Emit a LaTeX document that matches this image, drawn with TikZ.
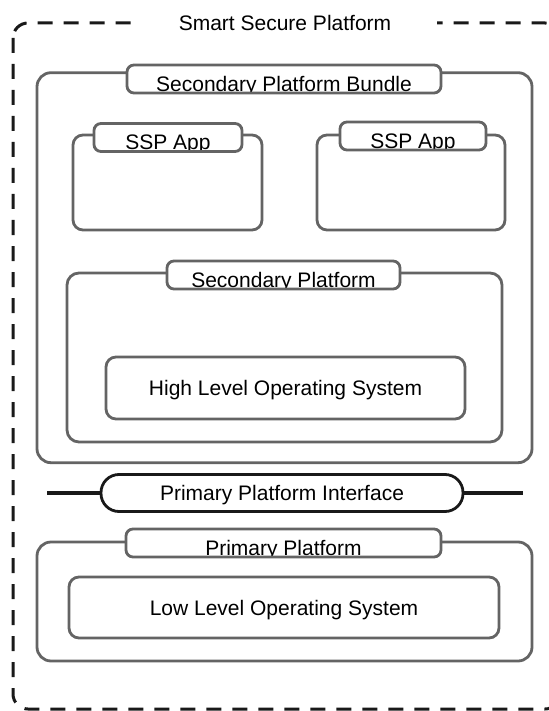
\documentclass[tikz,border=0pt]{standalone}
\usepackage{fontspec}
\setmainfont{Liberation Sans}
\usepackage{xcolor}
\usepackage{tikz}

\definecolor{boxgray}{RGB}{100,100,100}
\definecolor{inkblack}{RGB}{25,25,25}

\tikzset{
    panel/.style={draw=boxgray, line width=2.8pt, fill=white, inner sep=0pt, text depth=0pt},
    tabbox/.style={draw=boxgray, line width=2.8pt, fill=white, rounded corners=7pt,
        minimum height=28pt, inner sep=0pt,
        path picture={\node[shape=rectangle, draw=none, fill=none, inner sep=0pt,
            minimum size=0pt, anchor=base] at ([yshift=1.5pt]path picture bounding box.south) {#1};}},
    dashframe/.style={draw=inkblack, line width=3pt, dash pattern=on 15pt off 11pt},
    ifline/.style={draw=inkblack, line width=3.5pt},
}

\begin{document}
\begin{tikzpicture}[x=1pt, y=-1pt, font=\fontsize{21}{25}\selectfont]
        \fill[white] (0, 0) rectangle (548, 711);
        \useasboundingbox (0, 0) rectangle (548, 711);

        \draw[dashframe, rounded corners=15pt] (13, 23) rectangle (560, 709);
        \node[fill=white, minimum width=304pt, inner sep=0pt] (ssptitle) at (285, 23) {Smart Secure Platform};

        \node[panel, rounded corners=14pt, minimum width=495pt, minimum height=390pt] (bundle) at (284.5, 267.7) {};
        \node[tabbox={Secondary Platform Bundle}, minimum width=314pt] (bundletab) at (284, 79) {};

        \node[panel, rounded corners=10pt, minimum width=189pt, minimum height=95pt] (appa) at (167.5, 182.5) {};
        \node[tabbox={SSP App}, minimum width=148pt] (appatab) at (168, 137.5) {};
        \node[panel, rounded corners=10pt, minimum width=188pt, minimum height=95pt] (appb) at (411, 182.5) {};
        \node[tabbox={SSP App}, minimum width=146pt] (appbtab) at (413, 136) {};

        \node[panel, rounded corners=12pt, minimum width=435pt, minimum height=169pt] (secplat) at (284.5, 357.5) {};
        \node[tabbox={Secondary Platform}, minimum width=233pt] (secplattab) at (283.5, 275) {};
        \node[panel, rounded corners=10pt, minimum width=359pt, minimum height=62pt] (hlos) at (285.5, 388) {High Level Operating System};

        \coordinate (ifl) at (47, 493);
        \coordinate (ifr) at (523, 493);
        \node[panel, draw=inkblack, rounded corners=18pt, minimum width=362pt, minimum height=37pt] (ppi) at (282, 493) {Primary Platform Interface};
        \draw[ifline] (ifl) -- (ppi);
        \draw[ifline] (ppi) -- (ifr);

        \node[panel, rounded corners=14pt, minimum width=495pt, minimum height=119pt] (primplat) at (284.5, 601.5) {};
        \node[tabbox={Primary Platform}, minimum width=315pt] (primplattab) at (283.5, 543) {};
        \node[panel, rounded corners=10pt, minimum width=430pt, minimum height=61pt] (llos) at (284, 607.5) {Low Level Operating System};
\end{tikzpicture}
\end{document}
